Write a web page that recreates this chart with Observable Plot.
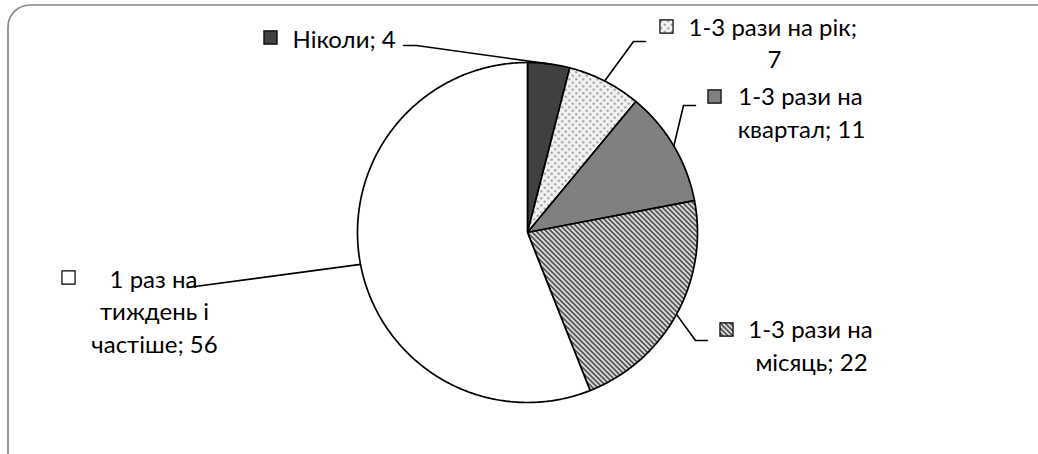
<!DOCTYPE html>
<html>
<head>
<meta charset="utf-8">
<script src="https://cdn.jsdelivr.net/npm/d3@7"></script>
<script src="https://cdn.jsdelivr.net/npm/@observablehq/plot@0.6"></script>
<style>
  html, body { margin: 0; padding: 0; background: #fff; }
  #chart svg { display: block; }
</style>
</head>
<body>
<div id="chart"></div>
<script>
// ---- data ----
const categories = ["Ніколи", "1-3 рази на рік", "1-3 рази на квартал", "1-3 рази на місяць", "1 раз на тиждень і частіше"];
const values = [4, 7, 11, 22, 56];

// ---- styles ----
const fills = ["#404040", "url(#dots)", "#808080", "url(#stripes)", "#ffffff"];
const wordsPerLine = [[2], [4, 1], [3, 2], [3, 2], [3, 2, 2]];

// ---- layout ----
const W = 1038, H = 454;
const cx = 527, cy = 232, R = 170;
const fontSize = 24, lineStep = 32.5;
const labelLayout = [
  {key: [270, 37], lines: [{x: 292, anchor: "start"}], y0: 47, leader: [[416, 45], [403, 45]]},
  {key: [666, 26], lines: [{x: 688, anchor: "start"}, {x: 774, anchor: "middle"}], y0: 35, leader: [[633, 41], [645, 41]]},
  {key: [714, 96], lines: [{x: 800, anchor: "middle"}, {x: 801, anchor: "middle"}], y0: 104.5, leader: [[683, 105], [695, 105]]},
  {key: [726, 329], lines: [{x: 810, anchor: "middle"}, {x: 811, anchor: "middle"}], y0: 337.5, leader: [[695, 340], [707, 340]]},
  {key: [68, 277], lines: [{x: 153, anchor: "middle"}, {x: 154, anchor: "middle"}, {x: 154, anchor: "middle"}], y0: 287, leader: [[187, 287]]}
];

// ---- geometry from data ----
const total = d3.sum(values);
const cum = d3.cumsum(values);
const toXY = (deg) => {
  const a = deg * Math.PI / 180;
  return {x: cx + R * Math.sin(a), y: cy - R * Math.cos(a)};
};
const slices = values.map((v, i) => {
  const a0 = (cum[i] - v) / total * 360;
  const a1 = cum[i] / total * 360;
  const pts = [{x: cx, y: cy}];
  const n = Math.max(2, Math.ceil((a1 - a0) / 0.5));
  for (let k = 0; k <= n; k++) pts.push(toXY(a0 + (a1 - a0) * k / n));
  pts.push({x: cx, y: cy});
  return {pts, mid: (a0 + a1) / 2};
});

const leaders = [];
slices.forEach((s, i) => {
  const p = toXY(s.mid);
  leaders.push({i, x: p.x, y: p.y});
  labelLayout[i].leader.forEach(([x, y]) => leaders.push({i, x, y}));
});

const keys = categories.map((c, i) => ({i, x: labelLayout[i].key[0], y: labelLayout[i].key[1], fill: fills[i]}));

const textRows = [];
categories.forEach((c, i) => {
  const words = `${c}; ${values[i]}`.split(" ");
  let w = 0;
  wordsPerLine[i].forEach((n, li) => {
    const t = words.slice(w, w + n).join(" ");
    w += n;
    const L = labelLayout[i].lines[li];
    textRows.push({text: t, x: L.x, y: labelLayout[i].y0 + li * lineStep, anchor: L.anchor});
  });
});

const marks = [
  Plot.frame({stroke: "#868686", strokeWidth: 1.7, rx: 22, insetLeft: 7.5, insetTop: 4.5, insetRight: -30, insetBottom: -30})
];
slices.forEach((s, i) => {
  marks.push(Plot.line(s.pts, {x: "x", y: "y", fill: fills[i], stroke: "#000", strokeWidth: 1.7, curve: "linear-closed"}));
});
marks.push(Plot.line(leaders, {x: "x", y: "y", z: "i", stroke: "#000", strokeWidth: 1.6}));
marks.push(Plot.dot(keys, {x: "x", y: "y", symbol: "square", r: 7.4, fill: (d) => d.fill, stroke: "#000", strokeWidth: 1.2}));
["start", "middle"].forEach((anc) => {
  marks.push(Plot.text(textRows.filter((d) => d.anchor === anc), {
    x: "x", y: "y", text: "text", textAnchor: anc, lineAnchor: "bottom",
    fontSize, fontFamily: "Lato, 'Open Sans', sans-serif", fill: "#000"
  }));
});

const chart = Plot.plot({
  width: W, height: H,
  margin: 0,
  x: {domain: [0, W], range: [0, W], axis: null},
  y: {domain: [0, H], range: [0, H], axis: null},
  color: {type: "identity"},
  style: {background: "#fff", overflow: "hidden"},
  marks
});

// pattern definitions used by the slice fills
const ns = "http://www.w3.org/2000/svg";
const defs = document.createElementNS(ns, "defs");
defs.innerHTML = `
  <pattern id="dots" patternUnits="userSpaceOnUse" width="7" height="7">
    <rect width="7" height="7" fill="#f3f3f3"/>
    <circle cx="1.75" cy="1.75" r="1.1" fill="#7a7a7a"/>
    <circle cx="5.25" cy="5.25" r="1.1" fill="#7a7a7a"/>
  </pattern>
  <pattern id="stripes" patternUnits="userSpaceOnUse" width="5" height="5">
    <rect width="5" height="5" fill="#ffffff"/>
    <path d="M-1,-1 L6,6 M-1,4 L1,6 M4,-1 L6,1" stroke="#303030" stroke-width="1.7"/>
  </pattern>`;
chart.insertBefore(defs, chart.firstChild);
document.getElementById("chart").appendChild(chart);
</script>
</body>
</html>
